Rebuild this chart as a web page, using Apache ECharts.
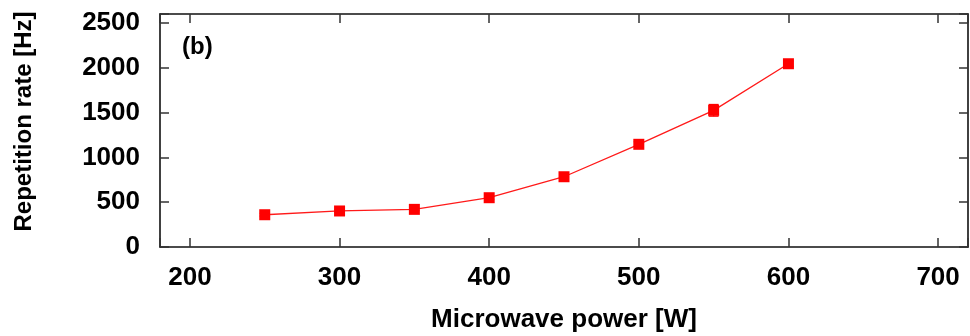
<!DOCTYPE html>
<html>
<head>
<meta charset="utf-8">
<script src="https://cdn.jsdelivr.net/npm/echarts@6/dist/echarts.min.js"></script>
<style>
html,body{margin:0;padding:0;background:#fff;}
#c{width:970px;height:336px;}
</style>
</head>
<body>
<div id="c"></div>
<script>
// Data
var power = [250, 300, 350, 400, 450, 500, 550, 600];
var rate = [360, 402, 420, 550, 784, 1146, 1525, 2045];
var rateErr = [15, 15, 15, 20, 25, 30, 65, 30];
var xTickLabels = [200, 300, 400, 500, 600, 700];
var yTickLabels = [0, 500, 1000, 1500, 2000, 2500];
var xName = 'Microwave power [W]';
var yName = 'Repetition rate [Hz]';
var panelLabel = '(b)';

var FONT = '"Liberation Sans", Arial, Helvetica, sans-serif';
var chart = echarts.init(document.getElementById('c'), null, {renderer: 'canvas'});

var pts = power.map(function (p, i) { return [p, rate[i]]; });
var errData = power.map(function (p, i) { return [p, rate[i] - rateErr[i], rate[i] + rateErr[i]]; });

function axisCommon(pos, showLabel, ticks) {
  return {
    type: 'value',
    position: pos,
    axisLine: {show: true, onZero: false, lineStyle: {color: '#111', width: 1.6}},
    axisTick: {show: true, inside: true, length: 9, lineStyle: {color: '#333', width: 1.5}},
    splitLine: {show: false},
    axisLabel: {
      show: showLabel,
      color: '#000',
      fontFamily: FONT,
      fontWeight: 'bold',
      fontSize: 26,
      formatter: function (v) { return ticks.indexOf(v) >= 0 ? String(v) : ''; }
    }
  };
}

var xBottom = axisCommon('bottom', true, xTickLabels);
xBottom.min = 180; xBottom.max = 720;
xBottom.axisLabel.margin = 18;
xBottom.name = xName;
xBottom.nameLocation = 'middle';
xBottom.nameGap = 60;
xBottom.nameTextStyle = {color: '#000', fontFamily: FONT, fontWeight: 'bold', fontSize: 26};
var xTop = axisCommon('top', false, xTickLabels);
xTop.min = 180; xTop.max = 720;

var yLeft = axisCommon('left', true, yTickLabels);
yLeft.min = 0; yLeft.max = 2600;
yLeft.axisLabel.margin = 20;
yLeft.name = yName;
yLeft.nameLocation = 'middle';
yLeft.nameGap = 124;
yLeft.nameTextStyle = {color: '#000', fontFamily: FONT, fontWeight: 'bold', fontSize: 24, padding: [0, 0, 0, 18]};
var yRight = axisCommon('right', false, yTickLabels);
yRight.min = 0; yRight.max = 2600;

chart.setOption({
  animation: false,
  backgroundColor: '#fff',
  title: {
    text: panelLabel,
    left: 182, top: 35, padding: 0,
    textStyle: {color: '#000', fontFamily: FONT, fontWeight: 'bold', fontSize: 24}
  },
  grid: {left: 160, right: 2, top: 14, bottom: 89, containLabel: false, outerBoundsMode: 'none'},
  xAxis: [xBottom, xTop],
  yAxis: [yLeft, yRight],
  series: [
    {
      type: 'custom',
      xAxisIndex: 0, yAxisIndex: 0,
      data: errData,
      z: 3,
      renderItem: function (params, api) {
        var x = api.value(0);
        var lo = api.coord([x, api.value(1)]);
        var hi = api.coord([x, api.value(2)]);
        var hw = 5;
        var st = {stroke: '#ff0000', lineWidth: 1.3};
        return {
          type: 'group',
          children: [
            {type: 'line', shape: {x1: lo[0], y1: lo[1], x2: hi[0], y2: hi[1]}, style: st},
            {type: 'line', shape: {x1: lo[0] - hw, y1: lo[1], x2: lo[0] + hw, y2: lo[1]}, style: st},
            {type: 'line', shape: {x1: hi[0] - hw, y1: hi[1], x2: hi[0] + hw, y2: hi[1]}, style: st}
          ]
        };
      }
    },
    {
      type: 'line',
      xAxisIndex: 0, yAxisIndex: 0,
      data: pts,
      z: 4,
      symbol: 'rect',
      symbolSize: 11,
      showSymbol: true,
      lineStyle: {color: '#ff1a1a', width: 1.3},
      itemStyle: {color: '#ff0000'}
    }
  ]
});
</script>
</body>
</html>
